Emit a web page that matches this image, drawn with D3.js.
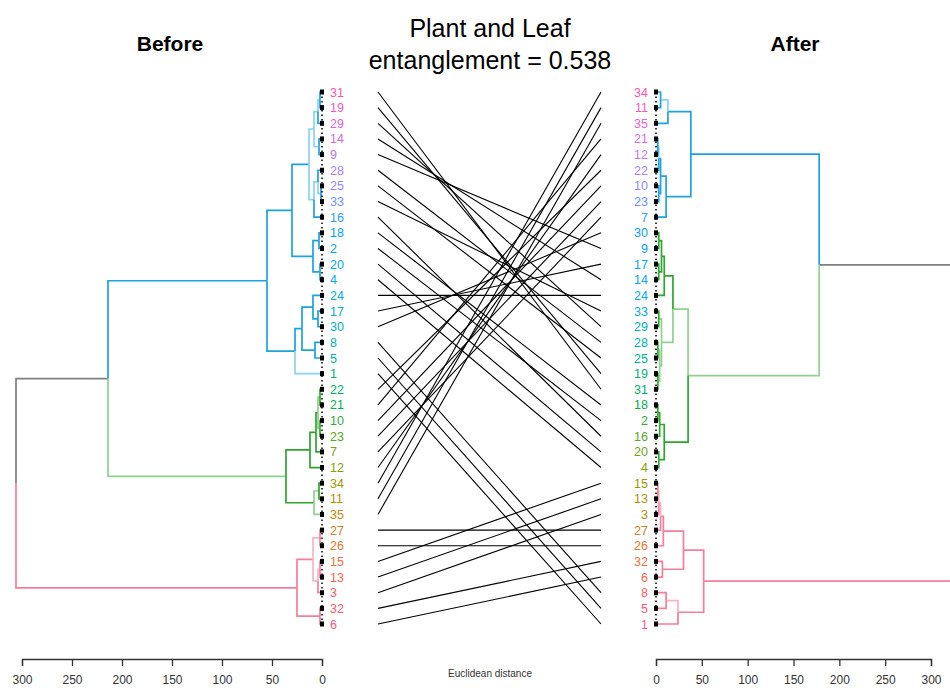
<!DOCTYPE html>
<html>
<head>
<meta charset="utf-8">
<script src="https://cdn.jsdelivr.net/npm/d3@7"></script>
<style>
body { margin: 0; background: #fff; }
svg { display: block; font-family: "Liberation Sans", Arial, sans-serif; }
</style>
</head>
<body>
<svg id="chart" width="950" height="697"></svg>
<script>
// leaf order, top to bottom
var leftOrder = [31,19,29,14,9,28,25,33,16,18,2,20,4,24,17,30,8,5,1,22,21,10,23,7,12,34,11,35,27,26,15,13,3,32,6];
var rightOrder = [34,11,35,21,12,22,10,23,7,30,9,17,14,24,33,29,28,25,19,31,18,2,16,20,4,15,13,3,27,26,32,6,8,5,1];

// merges as [height, child, child]; bare numbers are leaves
var leftTree = [306,
  [214,
    [55,
      [30,
        [13,
          [8, [4, [2, 31, 19], 29], [3, 14, 9]],
          [8, [4, 28, [1, 25, 33]], 16]],
        [9, [3, 18, 2], [2, 20, 4]]],
      [27,
        [20, [9, 24, [4, 17, 30]], [7, 8, 5]],
        1]],
    [36,
      [12, [6, [4, [2, 22, 21], [2, 10, 23]], 7], 12],
      [8, [3, 34, 11], 35]]],
  [25,
    [9, [2, 27, 26], [4, [2, 15, 13], 3]],
    [2, 32, 6]]];

var rightTree = [330,
  [178,
    [38,
      [13, [5, 34, 11], 35],
      [11, [5, [3, [2, 21, 12], 22], [3, 10, 23]], 7]],
    [35,
      [18.5,
        [9, [6, [3, 30, 9], [3, 17, 14]], 24],
        [6, [3, 33, 29], [4, [2, 28, 25], [2, 19, 31]]]],
      [9, [4, [2, 18, 2], 16], [3, 20, 4]]]],
  [52,
    [30,
      [8, [5, [3, [2, 15, 13], 3], 27], 26],
      [7, 32, 6]],
    [24, [11, 8, 5], 1]]];

var axisTicks = [0, 50, 100, 150, 200, 250, 300];
var entanglement = 0.538;

// edges drawn in the paler shade (keyed first-last leaf of the subtree)
var leftLite = ["22-35", "31-9", "28-16", "31-19", "31-29", "14-9", "28-33", "25-33", "1",
  "34-11", "35", "22-21", "10-23", "27-26", "15-3", "15-13"];
var rightLite = ["30-4", "30-31", "33-31", "33-29", "28-31", "28-25", "19-31", "34-11", "21-12",
  "8-5", "15-13", "15-3"];

var clusterDark = ["#1ea2df", "#2ea62e", "#f57e9c"];
var clusterLite = ["#8dd2f2", "#8fd18f", "#fab2c4"];
var rootColor = "#7f7f7f";
var cutHeight = 100;

var svg = d3.select('#chart');

var y = d3.scalePoint().domain(d3.range(35)).range([92, 624]);
var xLeft = d3.scaleLinear().domain([0, 300]).range([322, 22]);
var xRight = d3.scaleLinear().domain([0, 300]).range([656, 931]);

function layout(node, order) {
  if (typeof node === 'number') {
    return { h: 0, y: y(order.indexOf(node)), key: String(node), first: node, last: node, kids: [] };
  }
  var a = layout(node[1], order), b = layout(node[2], order);
  return { h: node[0], y: (a.y + b.y) / 2, key: a.first + '-' + b.last, first: a.first, last: b.last, kids: [a, b] };
}

function drawTree(tree, order, x, lite) {
  var root = layout(tree, order);
  var edges = [];
  var clusterCount = 0;
  function walk(p, cl) {
    p.kids.forEach(function(c) {
      var ci = cl;
      if (ci < 0 && c.h < cutHeight) { ci = clusterCount++; }
      var col = ci < 0 ? rootColor : (lite.indexOf(c.key) >= 0 ? clusterLite[ci] : clusterDark[ci]);
      edges.push({ p: p, c: c, color: col });
      walk(c, ci);
    });
  }
  walk(root, -1);

  var g = svg.append('g');
  g.selectAll('path')
    .data(edges)
    .enter().append('path')
    .attr('d', function(e) { return 'M' + x(e.p.h) + ',' + e.p.y + 'V' + e.c.y + 'H' + x(e.c.h); })
    .attr('fill', 'none')
    .attr('stroke', function(e) { return e.color; })
    .attr('stroke-width', 1.7);

  // leaf markers
  g.append('line')
    .attr('x1', x(0)).attr('x2', x(0))
    .attr('y1', y(0)).attr('y2', y(34))
    .attr('stroke', '#000').attr('stroke-width', 1.5)
    .attr('stroke-dasharray', '1.5,3');
  g.selectAll('rect')
    .data(order)
    .enter().append('rect')
    .attr('x', x(0) - 2)
    .attr('y', function(d, i) { return y(i) - 2.5; })
    .attr('width', 4).attr('height', 5)
    .attr('fill', '#000');
}

function labelColor(i) {
  var j = 34 - i;
  return d3.hcl(360 * j / 35 + 5, 68, 62).formatHex();
}

drawTree(leftTree, leftOrder, xLeft, leftLite);
drawTree(rightTree, rightOrder, xRight, rightLite);

svg.append('g').selectAll('text')
  .data(leftOrder)
  .enter().append('text')
  .attr('x', 330)
  .attr('y', function(d, i) { return y(i); })
  .attr('dy', '0.36em')
  .attr('font-size', '12.5px')
  .attr('fill', function(d, i) { return labelColor(i); })
  .text(function(d) { return d; });

svg.append('g').selectAll('text')
  .data(rightOrder)
  .enter().append('text')
  .attr('x', 648)
  .attr('y', function(d, i) { return y(i); })
  .attr('dy', '0.36em')
  .attr('text-anchor', 'end')
  .attr('font-size', '12.5px')
  .attr('fill', function(d, i) { return labelColor(i); })
  .text(function(d) { return d; });

// connecting lines
var xL = 378, xR = 601;
svg.append('g').selectAll('line')
  .data(leftOrder)
  .enter().append('line')
  .attr('x1', xL)
  .attr('y1', function(d, i) { return y(i); })
  .attr('x2', xR)
  .attr('y2', function(d) { return y(rightOrder.indexOf(d)); })
  .attr('stroke', '#000')
  .attr('stroke-width', 1.1);

// axes
var axisY = 659;
[xLeft, xRight].forEach(function(sc) {
  var ax = svg.append('g')
    .attr('transform', 'translate(0,' + axisY + ')')
    .call(d3.axisBottom(sc).tickValues(axisTicks).tickSize(7).tickPadding(9));
  ax.selectAll('path, line').attr('stroke', '#333').attr('stroke-width', 1.3);
  ax.selectAll('text').attr('font-size', '12px').attr('fill', '#333')
    .attr('font-family', '"Liberation Sans", Arial, sans-serif');
});

svg.append('text')
  .attr('x', 490).attr('y', 677)
  .attr('text-anchor', 'middle')
  .attr('font-size', '10px')
  .attr('fill', '#333')
  .text('Euclidean distance');

// titles
svg.append('text')
  .attr('x', 170).attr('y', 51)
  .attr('text-anchor', 'middle')
  .attr('font-size', '21px').attr('font-weight', 'bold')
  .text('Before');
svg.append('text')
  .attr('x', 795).attr('y', 51)
  .attr('text-anchor', 'middle')
  .attr('font-size', '21px').attr('font-weight', 'bold')
  .text('After');
svg.append('text')
  .attr('x', 490).attr('y', 37)
  .attr('text-anchor', 'middle')
  .attr('font-size', '25px')
  .text('Plant and Leaf');
svg.append('text')
  .attr('x', 490).attr('y', 69)
  .attr('text-anchor', 'middle')
  .attr('font-size', '25px')
  .text('entanglement = ' + entanglement);
</script>
</body>
</html>
